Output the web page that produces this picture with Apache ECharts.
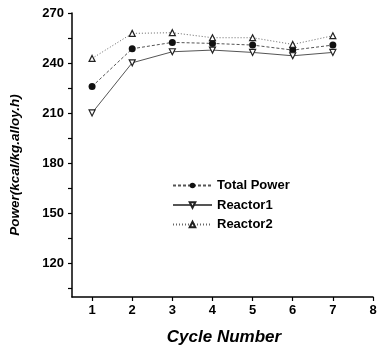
<!DOCTYPE html>
<html>
<head>
<meta charset="utf-8">
<script src="https://cdn.jsdelivr.net/npm/echarts@6/dist/echarts.min.js"></script>
<style>
  html, body { margin: 0; padding: 0; background: #fff; }
  #chart { width: 381px; height: 350px; }
</style>
</head>
<body>
<div id="chart"></div>
<script>
// Cycle numbers and power output per series (kcal/kg.alloy.h)
const cycles = [1, 2, 3, 4, 5, 6, 7];
const totalPower = [226, 248.6, 252.4, 251.8, 250.8, 247.8, 250.8];
const reactor1 = [210.2, 240.2, 246.8, 247.8, 246.4, 244.4, 246.4];
const reactor2 = [242.8, 257.8, 258.2, 255.2, 255.2, 251.2, 256.4];

const xTicks = [1, 2, 3, 4, 5, 6, 7, 8];
const yLabels = [120, 150, 180, 210, 240, 270];
const yTicks = [105, 120, 135, 150, 165, 180, 195, 210, 225, 240, 255, 270];

const font = '"Liberation Sans", Arial, sans-serif';
const pairs = vals => cycles.map((c, i) => [c, vals[i]]);

const chart = echarts.init(document.getElementById('chart'));
chart.setOption({
  animation: false,
  backgroundColor: '#fff',
  grid: { left: 72, right: 8, top: 13, bottom: 53 },
  graphic: [
    {
      type: 'text', x: 224, y: 337,
      style: {
        text: 'Cycle Number', textAlign: 'center', textVerticalAlign: 'middle',
        font: 'italic bold 17px ' + font, fill: '#000'
      }
    },
    {
      type: 'text', x: 15, y: 165, rotation: Math.PI / 2,
      style: {
        text: 'Power(kcal/kg.alloy.h)', textAlign: 'center', textVerticalAlign: 'middle',
        font: 'italic bold 13.5px ' + font, fill: '#000'
      }
    }
  ],
  xAxis: {
    type: 'value', min: 0.5, max: 8,
    axisLine: { show: true, lineStyle: { color: '#000', width: 1.5 } },
    axisTick: { show: true, length: 4, customValues: xTicks, lineStyle: { color: '#000', width: 1.2 } },
    axisLabel: { customValues: xTicks, margin: 7, fontFamily: font, fontWeight: 'bold', fontSize: 13, color: '#000' },
    splitLine: { show: false }
  },
  yAxis: {
    type: 'value', min: 100, max: 270,
    axisLine: { show: true, lineStyle: { color: '#000', width: 1.5 } },
    axisTick: { show: true, length: 4, customValues: yTicks, lineStyle: { color: '#000', width: 1.2 } },
    axisLabel: { customValues: yLabels, margin: 8, fontFamily: font, fontWeight: 'bold', fontSize: 13, color: '#000' },
    splitLine: { show: false }
  },
  legend: {
    orient: 'vertical', left: 172, top: 178, itemGap: 4.5, padding: 0,
    itemWidth: 39, itemHeight: 7,
    textStyle: { fontFamily: font, fontWeight: 'bold', fontSize: 13, color: '#000', lineHeight: 15 },
    data: ['Total Power', 'Reactor1', 'Reactor2']
  },
  series: [
    {
      name: 'Total Power', type: 'line', data: pairs(totalPower),
      symbol: 'circle', symbolSize: 7,
      itemStyle: { color: '#111' },
      lineStyle: { color: '#555', width: 1, type: [3, 2] }
    },
    {
      name: 'Reactor1', type: 'line', data: pairs(reactor1),
      symbol: 'triangle', symbolRotate: 180, symbolSize: 6,
      itemStyle: { color: '#fff', borderColor: '#222', borderWidth: 1.2 },
      lineStyle: { color: '#555', width: 1, type: 'solid' }
    },
    {
      name: 'Reactor2', type: 'line', data: pairs(reactor2),
      symbol: 'triangle', symbolSize: 6,
      itemStyle: { color: '#fff', borderColor: '#222', borderWidth: 1.2 },
      lineStyle: { color: '#666', width: 1, type: [1, 2] }
    }
  ]
});
</script>
</body>
</html>
